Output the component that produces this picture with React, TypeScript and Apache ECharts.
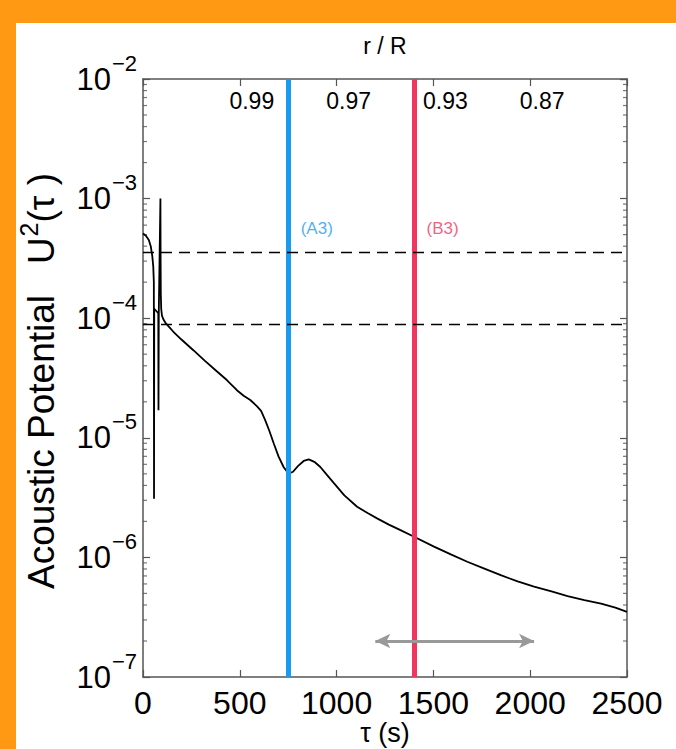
import React, { useEffect, useRef } from 'react';
import * as echarts from 'echarts';

// Acoustic potential U^2(tau) against acoustic depth tau (s)
const TAU = [
  0, 15, 30, 40, 48, 53, 56, 57, 58, 79, 80, 81.5, 90, 91, 92, 94, 98, 105, 115, 131, 157,
  200, 260, 320, 381, 433, 485, 520, 554, 588, 610, 630, 652, 675, 700, 726, 752, 775, 800,
  830, 856, 885, 916, 950, 985, 1040, 1106, 1160, 1209, 1270, 1330, 1400, 1503, 1590,
  1675, 1760, 1848, 1935, 2020, 2110, 2193, 2280, 2366, 2440, 2500,
];
const U2 = [
  5.1e-4, 4.9e-4, 4.5e-4, 4.0e-4, 3.3e-4, 2.7e-4, 2.0e-4, 3.1e-6, 1.2e-4, 1.1e-4, 1.7e-5,
  1.1e-4, 1.0e-3, 3.0e-4, 1.6e-4, 1.2e-4, 1.05e-4, 9.8e-5, 9.2e-5, 8.6e-5, 7.7e-5,
  6.6e-5, 5.4e-5, 4.4e-5, 3.6e-5, 3.04e-5, 2.5e-5, 2.25e-5, 2.07e-5, 1.84e-5, 1.68e-5,
  1.42e-5, 1.15e-5, 9.0e-6, 7.0e-6, 5.7e-6, 5.0e-6, 5.2e-6, 5.8e-6, 6.4e-6, 6.6e-6,
  6.3e-6, 5.7e-6, 4.9e-6, 4.2e-6, 3.3e-6, 2.65e-6, 2.35e-6, 2.12e-6, 1.88e-6, 1.69e-6,
  1.49e-6, 1.23e-6, 1.06e-6, 9.2e-7, 8.1e-7, 7.1e-7, 6.3e-7, 5.7e-7, 5.2e-7, 4.75e-7,
  4.4e-7, 4.1e-7, 3.8e-7, 3.5e-7,
];

// Axis ranges
const TAU_MIN = 0;
const TAU_MAX = 2500;
const U2_MIN = 1e-7;
const U2_MAX = 1e-2;

// Fractional radius r/R shown along the top axis
const R_TICK_TAU = [500, 1000, 1500, 2000];
const R_LABELS = ['0.99', '0.97', '0.93', '0.87'];

// Marked depths
const MARKER_TAU = [750, 1400];
const MARKER_NAMES = ['(A3)', '(B3)'];
const MARKER_COLORS = ['#1A9BEF', '#F2355F'];
const MARKER_LABEL_LEVEL = 5.6e-4;

// Horizontal reference levels
const THRESHOLDS = [3.56e-4, 8.9e-5];

// Range arrow
const SPAN_TAU = [1200, 2020];
const SPAN_LEVEL = 2e-7;

// Log-axis minor tick positions
const DECADES = [1e-7, 1e-6, 1e-5, 1e-4, 1e-3];
const MINOR_STEPS = [2, 3, 4, 5, 6, 7, 8, 9];

const FONT = "'Liberation Sans', Arial, Helvetica, sans-serif";
const AXIS_COLOR = '#555';
const SUPER_MINUS = '\u2212';

function buildOption() {
  const minorValues = DECADES.flatMap((d) => MINOR_STEPS.map((m) => m * d));
  const axisLine = { show: true, onZero: false, lineStyle: { color: AXIS_COLOR, width: 1.5 } };
  const axisTick = { show: true, inside: true, length: 7, lineStyle: { color: AXIS_COLOR, width: 1.2 } };

  const minorTickSeries = (x: number, offset: number) => ({
    type: 'scatter',
    xAxisIndex: 0,
    yAxisIndex: 0,
    silent: true,
    clip: false,
    symbol: 'rect',
    symbolSize: [4, 1.2],
    symbolOffset: [offset, 0],
    itemStyle: { color: AXIS_COLOR },
    data: minorValues.map((v) => [x, v]),
    z: 1,
  });

  return {
    animation: false,
    backgroundColor: '#ffffff',
    textStyle: { fontFamily: FONT },
    grid: { left: 127, top: 56, right: 49, bottom: 72, containLabel: false, outerBoundsMode: 'none' },
    xAxis: [
      {
        type: 'value',
        min: TAU_MIN,
        max: TAU_MAX,
        interval: 500,
        position: 'bottom',
        axisLine,
        axisTick,
        splitLine: { show: false },
        axisLabel: {
          color: '#000',
          fontSize: 32,
          fontFamily: FONT,
          margin: 10,
          formatter: (v: number) => String(v),
        },
        name: 'τ (s)',
        nameLocation: 'middle',
        nameGap: 42,
        nameMoveOverlap: false,
        nameTextStyle: { color: '#000', fontSize: 27, lineHeight: 27, fontFamily: FONT },
      },
      {
        type: 'value',
        min: TAU_MIN,
        max: TAU_MAX,
        interval: 500,
        position: 'top',
        axisLine,
        axisTick,
        splitLine: { show: false },
        axisLabel: {
          inside: true,
          margin: 10,
          color: '#000',
          fontSize: 23,
          fontFamily: FONT,
          padding: [0, 0, 0, 24],
          formatter: (v: number) => {
            const i = R_TICK_TAU.indexOf(v);
            return i >= 0 ? R_LABELS[i] : '';
          },
        },
        name: 'r / R',
        nameLocation: 'middle',
        nameGap: 22,
        nameTextStyle: { color: '#000', fontSize: 23, fontFamily: FONT },
      },
    ],
    yAxis: [
      {
        type: 'log',
        logBase: 10,
        min: U2_MIN,
        max: U2_MAX,
        position: 'left',
        axisLine,
        axisTick,
        splitLine: { show: false },
        axisLabel: {
          margin: 6,
          formatter: (v: number) => {
            const e = Math.round(Math.log10(v));
            return '{b|10}{s|' + (e < 0 ? SUPER_MINUS : '') + Math.abs(e) + '}';
          },
          rich: {
            b: { fontSize: 31, lineHeight: 31, color: '#000', fontFamily: FONT },
            s: { fontSize: 22, lineHeight: 22, color: '#000', fontFamily: FONT, padding: [0, 0, 32, 1] },
          },
        },
        name: '{t|Acoustic Potential   U}{s|2}{t|(τ )}',
        nameLocation: 'middle',
        nameRotate: 90,
        nameGap: 81,
        nameTextStyle: {
          padding: [0, 6, 0, 0],
          rich: {
            t: { fontSize: 37, lineHeight: 38, color: '#000', fontFamily: FONT },
            s: { fontSize: 25, lineHeight: 25, color: '#000', fontFamily: FONT, padding: [0, 0, 24, 1] },
          },
        },
      },
      {
        type: 'log',
        logBase: 10,
        min: U2_MIN,
        max: U2_MAX,
        position: 'right',
        axisLine,
        axisTick,
        splitLine: { show: false },
        axisLabel: { show: false },
      },
    ],
    series: [
      {
        type: 'line',
        name: 'U2',
        xAxisIndex: 0,
        yAxisIndex: 0,
        showSymbol: false,
        symbol: 'none',
        lineStyle: { color: '#000', width: 1.8 },
        data: TAU.map((t, i) => [t, U2[i]]),
        z: 3,
        markLine: {
          silent: true,
          symbol: 'none',
          label: { show: false },
          data: [
            ...MARKER_TAU.map((t, i) => [
              { coord: [t, U2_MIN] },
              { coord: [t, U2_MAX], lineStyle: { color: MARKER_COLORS[i], width: 5, type: 'solid' } },
            ]),
            ...THRESHOLDS.map((v) => [
              { coord: [TAU_MIN, v] },
              { coord: [TAU_MAX, v], lineStyle: { color: '#000', width: 1.4, type: [11, 7] } },
            ]),
            [
              { coord: [SPAN_TAU[0], SPAN_LEVEL], symbol: 'arrow', symbolSize: [11, 15] },
              {
                coord: [SPAN_TAU[1], SPAN_LEVEL],
                symbol: 'arrow',
                symbolSize: [11, 15],
                lineStyle: { color: '#999', width: 3, type: 'solid' },
              },
            ],
          ],
        },
      },
      {
        type: 'scatter',
        xAxisIndex: 0,
        yAxisIndex: 0,
        silent: true,
        symbolSize: 1,
        itemStyle: { color: 'transparent' },
        data: MARKER_TAU.map((t, i) => ({
          value: [t, MARKER_LABEL_LEVEL],
          label: {
            show: true,
            position: 'right',
            distance: 12,
            formatter: MARKER_NAMES[i],
            color: MARKER_COLORS[i],
            fontSize: 17,
            fontFamily: FONT,
          },
        })),
        z: 5,
      },
      minorTickSeries(TAU_MIN, 2),
      minorTickSeries(TAU_MAX, -2),
    ],
  };
}

export default function App() {
  const ref = useRef<HTMLDivElement>(null);

  useEffect(() => {
    if (!ref.current) return;
    const chart = echarts.init(ref.current, null, { renderer: 'svg' });
    chart.setOption(buildOption() as any);
    return () => chart.dispose();
  }, []);

  return (
    <div
      style={{
        position: 'fixed',
        left: 0,
        top: 0,
        width: 676,
        height: 749,
        background: '#FF9914',
        overflow: 'hidden',
      }}
    >
      <div
        ref={ref}
        style={{ position: 'absolute', left: 16, top: 23, width: 660, height: 726, background: '#ffffff' }}
      />
    </div>
  );
}
